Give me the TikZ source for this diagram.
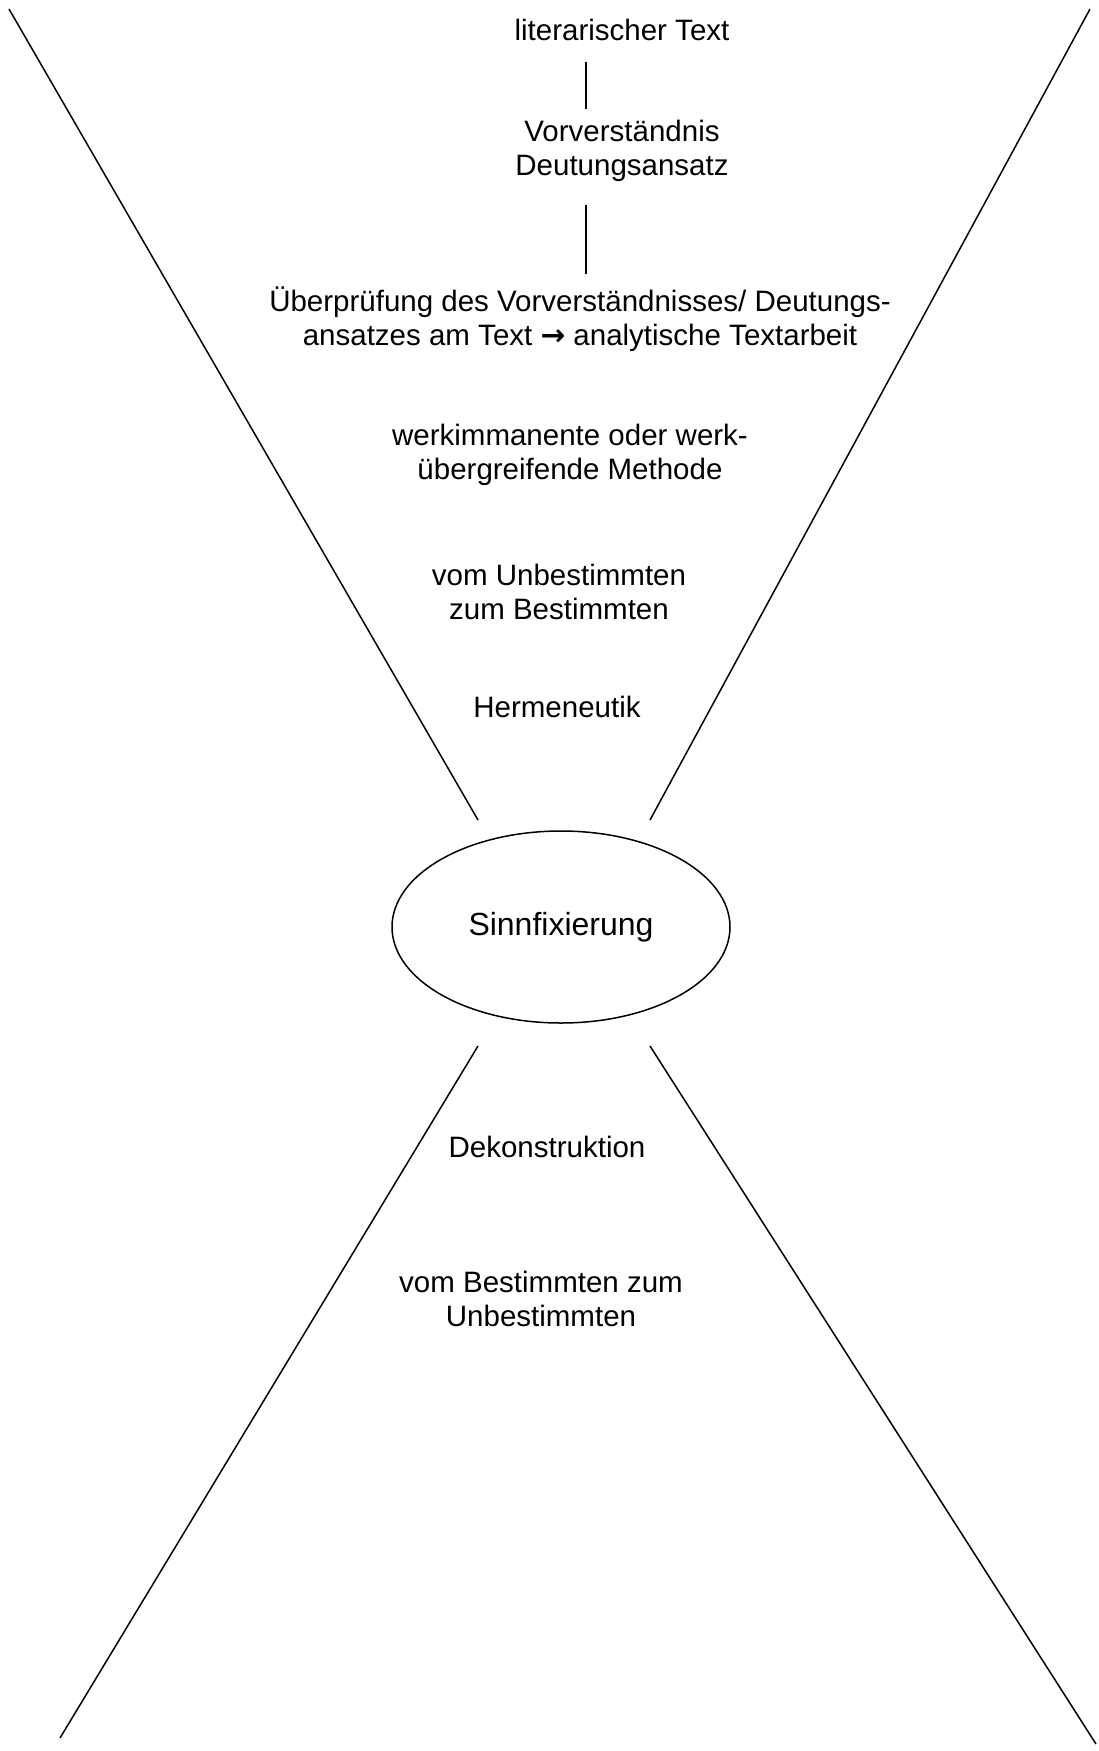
\documentclass[tikz,border=0pt]{standalone}
\usepackage{fontspec}
\setmainfont{Liberation Sans}
\newfontfamily\arrowfont{DejaVu Sans}
\usepackage{tikz}
\usetikzlibrary{shapes,positioning}

\begin{document}
\begin{tikzpicture}[x=1pt, y=-1pt, line width=1.5pt,
    txt/.style={align=center, inner sep=0pt, font=\fontsize{29.5}{34}\selectfont},
    fixbox/.style={draw, ellipse, minimum width=338pt, minimum height=192pt,
        font=\fontsize{32}{38}\selectfont}]
    \useasboundingbox (0,0) rectangle (1098,1751);

    % upper part: Hermeneutik
    \node[txt] (lit) at (622,30) {literarischer Text};
    \node[txt] (vor) at (622,151) {Vorverständnis\\Deutungsansatz};
    \node[txt] (pruef) at (580,319) {Überprüfung des Vorverständnisses/ Deutungs-\\
        ansatzes am Text {\arrowfont\bfseries →} analytische Textarbeit};
    \node[txt] (werk) at (570,455) {werkimmanente oder werk-\\übergreifende Methode};
    \node[txt] (unbest) at (559,592) {vom Unbestimmten\\zum Bestimmten};
    \node[txt] (herm) at (557,707) {Hermeneutik};

    \draw[shorten <=20pt, shorten >=11pt] ([xshift=-36pt]lit.south) -- ([xshift=-36pt]vor.north);
    \draw[shorten <=22pt, shorten >=12pt] ([xshift=-36pt]vor.south) -- ([xshift=6pt]pruef.north);

    % centre
    \node[fixbox] (sinn) at (561,927) {Sinnfixierung};

    % lower part: Dekonstruktion
    \node[txt] (dekon) at (547,1147) {Dekonstruktion};
    \node[txt] (best) at (541,1299) {vom Bestimmten zum\\Unbestimmten};

    % funnel lines
    \coordinate (ul) at (9,9);
    \coordinate (ur) at (1090,9);
    \coordinate (ml) at (478,820);
    \coordinate (mr) at (650,820);
    \coordinate (nl) at (478,1046);
    \coordinate (nr) at (650,1046);
    \coordinate (ll) at (60,1738);
    \coordinate (lr) at (1096,1744);
    \draw (ul) -- (ml);
    \draw (ur) -- (mr);
    \draw (nl) -- (ll);
    \draw (nr) -- (lr);
\end{tikzpicture}
\end{document}
